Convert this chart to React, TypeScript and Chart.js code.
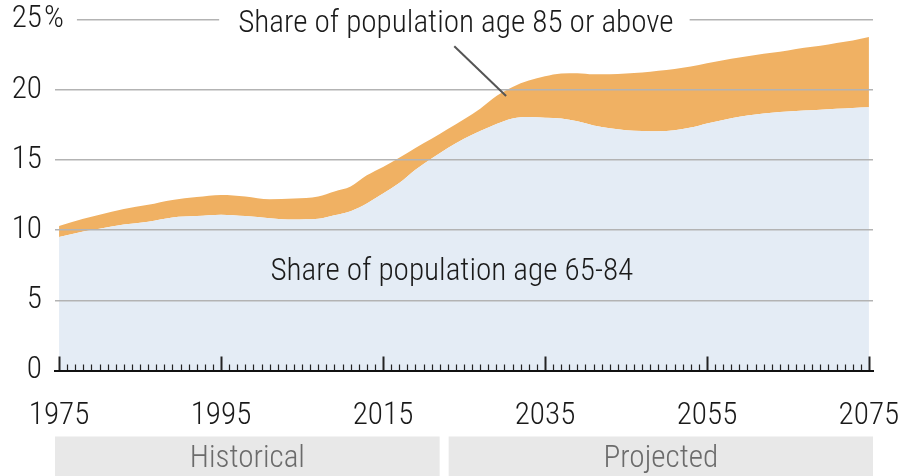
import React, { useEffect, useRef } from 'react';
import { Chart, registerables } from 'chart.js';

Chart.register(...registerables);

// ---- data ----
const years = [1975, 1978, 1980, 1983, 1986, 1989, 1992, 1995, 1998, 2001, 2004, 2007, 2009, 2011, 2013, 2015, 2017, 2019, 2021, 2023, 2025, 2027, 2029, 2031, 2033, 2035, 2037, 2039, 2041, 2043, 2045, 2047, 2049, 2051, 2053, 2055, 2057, 2059, 2061, 2063, 2065, 2067, 2069, 2071, 2073, 2075];
const share65to84 = [9.5, 9.9, 10.1, 10.4, 10.6, 10.9, 11.0, 11.1, 11.0, 10.85, 10.75, 10.8, 11.05, 11.35, 11.9, 12.6, 13.35, 14.3, 15.1, 15.85, 16.5, 17.05, 17.55, 17.95, 18.05, 18.0, 17.95, 17.75, 17.45, 17.25, 17.12, 17.06, 17.04, 17.12, 17.3, 17.6, 17.85, 18.07, 18.23, 18.36, 18.45, 18.52, 18.58, 18.64, 18.7, 18.75];
const share65plusTotal = [10.3, 10.8, 11.1, 11.5, 11.8, 12.15, 12.35, 12.5, 12.4, 12.2, 12.25, 12.4, 12.75, 13.1, 13.9, 14.5, 15.15, 15.85, 16.5, 17.2, 17.9, 18.65, 19.55, 20.2, 20.65, 20.95, 21.15, 21.18, 21.1, 21.1, 21.15, 21.22, 21.35, 21.47, 21.65, 21.88, 22.1, 22.3, 22.47, 22.63, 22.8, 22.98, 23.13, 23.33, 23.5, 23.75];
const xLabelYears = [1975, 1995, 2015, 2035, 2055, 2075];
const yTickValues = [0, 5, 10, 15, 20, 25];
const topLabel = 'Share of population age 85 or above';
const midLabel = 'Share of population age 65-84';
const periodLabels = ['Historical', 'Projected'];
const periodSplitYear = 2022.55;

const FONT_FAMILY = "'Roboto Condensed', 'Liberation Sans Narrow', Roboto, sans-serif";
const FONT_WEIGHT = '300';
const FONT_SIZE = 31.2;

// target chart area in the 901x476 picture
const AREA = { left: 55, right: 873, top: 19.5, bottom: 370.5 };

export default function App() {
  const ref = useRef<HTMLCanvasElement>(null);

  useEffect(() => {
    const fontStr = `${FONT_WEIGHT} ${FONT_SIZE}px ${FONT_FAMILY}`;
    const fontSpec: any = { family: FONT_FAMILY, weight: FONT_WEIGHT, size: FONT_SIZE };
    const labelPad = 13;

    const decor = {
      id: 'decor',
      afterDatasetsDraw(chart: any) {
        const { ctx, chartArea: ca, scales } = chart;
        const x = scales.x;
        ctx.save();
        ctx.strokeStyle = '#222';
        for (let yr = xLabelYears[0]; yr <= xLabelYears[xLabelYears.length - 1]; yr += 1) {
          const major = xLabelYears.includes(yr);
          const px = Math.round(x.getPixelForValue(yr)) + 0.5;
          ctx.lineWidth = major ? 2 : 1.2;
          ctx.beginPath();
          ctx.moveTo(px, ca.bottom);
          ctx.lineTo(px, ca.bottom - (major ? 14 : 6));
          ctx.stroke();
        }
        ctx.restore();
      },
      afterDraw(chart: any) {
        const { ctx, chartArea: ca, scales } = chart;
        const x = scales.x;
        const y = scales.y;
        ctx.save();
        ctx.font = fontStr;
        const y25 = y.getPixelForValue(25);
        // percent sign after top tick label
        const labelRight = ca.left - labelPad;
        const pctW = ctx.measureText('%').width;
        ctx.fillStyle = '#fff';
        ctx.fillRect(ca.left - 2, y25 - 2.5, labelRight + 2 + pctW + 13 - (ca.left - 2), 5);
        ctx.fillStyle = '#1a1a1a';
        ctx.textAlign = 'left';
        ctx.textBaseline = 'middle';
        ctx.fillText('%', labelRight + 2, y25);

        // top label with gap in gridline
        const tw = ctx.measureText(topLabel).width;
        const tx = x.getPixelForValue(2024);
        ctx.fillStyle = '#fff';
        ctx.fillRect(tx - tw / 2 - 19, y25 - 2.5, tw + 35, 5);
        ctx.fillStyle = '#1a1a1a';
        ctx.textAlign = 'center';
        ctx.textBaseline = 'alphabetic';
        ctx.fillText(topLabel, tx, y.getPixelForValue(24.13));

        // pointer
        ctx.strokeStyle = '#555';
        ctx.lineWidth = 2;
        ctx.beginPath();
        ctx.moveTo(x.getPixelForValue(2023.8), y.getPixelForValue(23.1));
        ctx.lineTo(x.getPixelForValue(2030.2), y.getPixelForValue(19.55));
        ctx.stroke();

        // mid label
        ctx.fillStyle = '#1a1a1a';
        ctx.fillText(midLabel, x.getPixelForValue(2023.5), y.getPixelForValue(6.45));

        // period bands
        const bandTop = ca.bottom + 66;
        const bandBottom = chart.height;
        const split = x.getPixelForValue(periodSplitYear);
        const bands = [
          [ca.left, split - 4.5],
          [split + 4.5, ca.right],
        ];
        bands.forEach(([l, r], i) => {
          ctx.fillStyle = '#e8e8e8';
          ctx.fillRect(l, bandTop, r - l, bandBottom - bandTop);
          ctx.fillStyle = '#6b6b6b';
          ctx.textAlign = 'center';
          ctx.textBaseline = 'alphabetic';
          ctx.fillText(periodLabels[i], (l + r) / 2, bandTop + 30);
        });
        ctx.restore();
      },
    };

    const padding = { top: AREA.top, right: 901 - AREA.right, bottom: 0, left: 0 };

    const chart = new Chart(ref.current!, {
      type: 'line',
      data: {
        datasets: [
          {
            label: midLabel,
            data: years.map((yr, i) => ({ x: yr, y: share65to84[i] })),
            fill: 'origin',
            backgroundColor: '#e4ecf5',
            borderWidth: 0,
            pointRadius: 0,
            cubicInterpolationMode: 'monotone',
          },
          {
            label: topLabel,
            data: years.map((yr, i) => ({ x: yr, y: share65plusTotal[i] })),
            fill: '-1',
            backgroundColor: '#f0b163',
            borderWidth: 0,
            pointRadius: 0,
            cubicInterpolationMode: 'monotone',
          },
        ],
      },
      options: {
        animation: false,
        responsive: true,
        maintainAspectRatio: false,
        layout: { padding },
        plugins: { legend: { display: false }, tooltip: { enabled: false } },
        scales: {
          x: {
            type: 'linear',
            min: 1974.5,
            max: 2075.5,
            afterBuildTicks: (s: any) => {
              s.ticks = xLabelYears.map((v) => ({ value: v }));
            },
            afterFit: (s: any) => {
              s.height = 476 - AREA.bottom;
              s.paddingLeft = 0;
              s.paddingRight = 0;
            },
            ticks: {
              font: fontSpec,
              color: '#1a1a1a',
              padding: 27,
              maxRotation: 0,
              autoSkip: false,
              callback: (v: any) => String(v),
            },
            grid: { drawOnChartArea: false, drawTicks: false },
            border: { display: true, color: '#111', width: 2, z: 1 },
          },
          y: {
            min: 0,
            max: 25,
            afterBuildTicks: (s: any) => {
              s.ticks = yTickValues.map((v) => ({ value: v }));
            },
            afterFit: (s: any) => {
              s.width = AREA.left;
              s.paddingTop = 0;
              s.paddingBottom = 0;
            },
            ticks: {
              font: fontSpec,
              color: '#1a1a1a',
              padding: labelPad,
              callback: (v: any) => String(v),
            },
            grid: {
              color: (c: any) => (c.tick && c.tick.value === 0 ? 'rgba(0,0,0,0)' : '#b3b3b3'),
              lineWidth: 1.5,
              drawTicks: false,
              z: 1,
            },
            border: { display: false },
          },
        },
      } as any,
      plugins: [decor],
    });

    return () => chart.destroy();
  }, []);

  return (
    <div style={{ position: 'fixed', left: 0, top: 0, width: 901, height: 476, background: '#fff' }}>
      <canvas ref={ref} />
    </div>
  );
}
